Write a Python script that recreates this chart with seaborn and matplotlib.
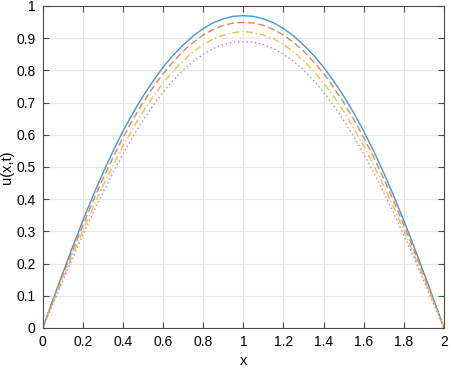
import numpy as np
import pandas as pd
import matplotlib
matplotlib.use("Agg")
import matplotlib.pyplot as plt
import seaborn as sns

# values, left half x = 0 .. 1 step 0.05 (curves are symmetric about x = 1)
x_half = [0.0, 0.05, 0.1, 0.15, 0.2, 0.25, 0.3, 0.35, 0.4, 0.45, 0.5,
          0.55, 0.6, 0.65, 0.7, 0.75, 0.8, 0.85, 0.9, 0.95, 1.0]
u_t1_half = [0.0, 0.086, 0.170, 0.253, 0.333, 0.409, 0.481, 0.548, 0.611, 0.668, 0.720,
             0.767, 0.810, 0.847, 0.879, 0.907, 0.930, 0.948, 0.960, 0.968, 0.970]
u_t2_half = [0.0, 0.082, 0.163, 0.242, 0.319, 0.393, 0.463, 0.529, 0.591, 0.648, 0.700,
             0.747, 0.790, 0.827, 0.860, 0.887, 0.910, 0.927, 0.940, 0.947, 0.949]
u_t3_half = [0.0, 0.077, 0.154, 0.229, 0.302, 0.373, 0.441, 0.505, 0.565, 0.620, 0.672,
             0.719, 0.761, 0.798, 0.830, 0.858, 0.880, 0.898, 0.910, 0.917, 0.921]
u_t4_half = [0.0, 0.073, 0.146, 0.218, 0.288, 0.356, 0.420, 0.482, 0.540, 0.595, 0.645,
             0.691, 0.732, 0.769, 0.801, 0.828, 0.850, 0.868, 0.880, 0.888, 0.889]
series_names = ["t1", "t2", "t3", "t4"]

x_ticks = [0, 0.2, 0.4, 0.6, 0.8, 1, 1.2, 1.4, 1.6, 1.8, 2]
y_ticks = [0, 0.1, 0.2, 0.3, 0.4, 0.5, 0.6, 0.7, 0.8, 0.9, 1]

# mirror the left half to get the full curve on [0, 2]
x_full = x_half + [2.0 - v for v in reversed(x_half[:-1])]
frames = []
for name, half in zip(series_names, [u_t1_half, u_t2_half, u_t3_half, u_t4_half]):
    full = half + list(reversed(half[:-1]))
    frames.append(pd.DataFrame({"x": x_full, "u": full, "series": name}))
df = pd.concat(frames)

sns.set_theme(style="ticks")
plt.rcParams["font.family"] = ["Liberation Sans", "DejaVu Sans"]

fig = plt.figure(figsize=(4.51, 3.68), dpi=100)
ax = fig.add_axes([0.0946, 0.1087, 0.89, 0.875])

palette = {"t1": "#3f98d2", "t2": "#e0845c", "t3": "#efbf45", "t4": "#b385c2"}
dashes = {"t1": "", "t2": (5, 2.5), "t3": (5, 2, 1, 2), "t4": (1, 2)}
sns.lineplot(data=df, x="x", y="u", hue="series", style="series",
             palette=palette, dashes=dashes, linewidth=1.0, legend=False, ax=ax)

ax.set_xlim(0, 2)
ax.set_ylim(0, 1)
ax.set_xticks(x_ticks)
ax.set_yticks(y_ticks)
ax.set_xticklabels([f"{v:g}" for v in x_ticks])
ax.set_yticklabels([f"{v:g}" for v in y_ticks])
ax.grid(True, color="#e6e6e6", linewidth=0.8)
ax.set_axisbelow(True)
for s in ax.spines.values():
    s.set_color("#4a4a4a")
    s.set_linewidth(0.8)
ax.tick_params(direction="in", length=4, width=0.8, color="#4a4a4a",
               top=True, right=True, labelsize=10, labelcolor="#000000", pad=5)
ax.set_xlabel("x", fontsize=10.5, color="#000000", labelpad=4)
ax.set_ylabel("u(x,t)", fontsize=10.5, color="#000000", labelpad=2)

fig.savefig("out.png", dpi=100)
